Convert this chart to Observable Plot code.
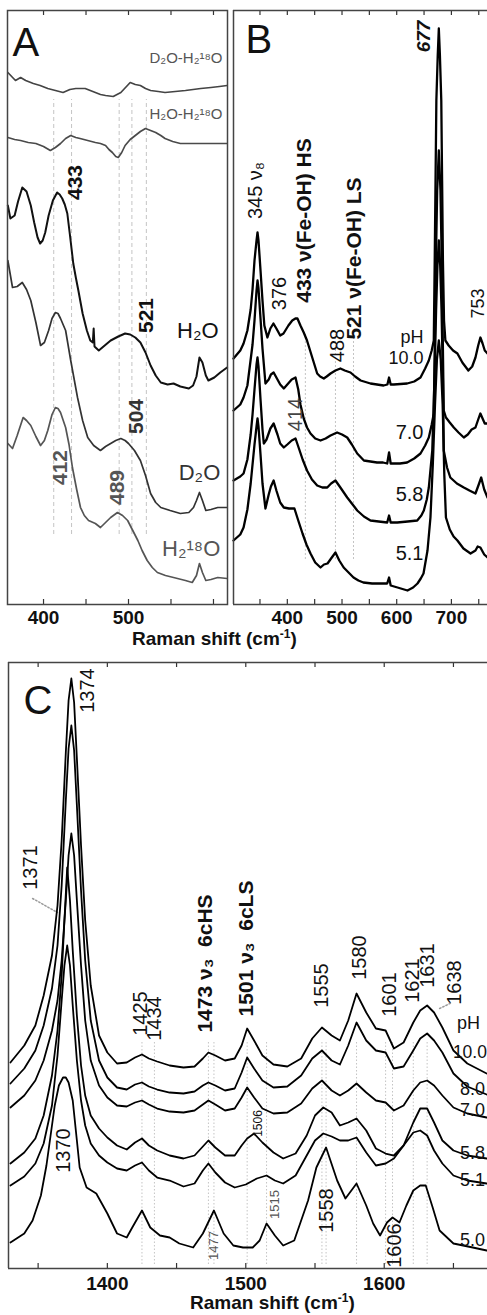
<!DOCTYPE html>
<html>
<head>
<meta charset="utf-8">
<script src="https://cdn.jsdelivr.net/npm/d3@7"></script>
<script src="https://cdn.jsdelivr.net/npm/@observablehq/plot@0.6"></script>
<style>
  body { margin: 0; background: #fff; }
  #fig { position: relative; width: 487px; height: 1315px; overflow: hidden; background: #fff;
         font-family: "Liberation Sans", Arial, Helvetica, sans-serif; }
  #fig > svg, #fig > div { position: absolute; }
  .xtitle { font-weight: bold; font-size: 19px; color: #111; white-space: nowrap; line-height: 22px; }
  .xtitle sup { font-size: 12px; }
</style>
</head>
<body>
<div id="fig"></div>
<script>
// ---------- Panel A: resonance Raman, low-frequency region (cm-1, offset intensity) ----------
const aDiffD2O = [[358,532],[367,524],[373,527],[379,524],[388,521],[396,519],[405,516],[414,514],[423,512],[431,515],[438,516],[449,516],[455,514],[461,512],[467,510],[473,509],[482,508],[491,512],[502,522],[508,520],[514,519],[520,516],[526,514],[535,513],[543,512],[555,513],[567,514],[576,515],[585,516],[597,517],[607,518],[616,519]];
const aDiffH2O = [[358,467],[366,465],[373,464],[382,462],[391,461],[400,458],[408,454],[414,457],[420,461],[426,466],[432,469],[438,467],[443,466],[452,464],[461,462],[467,461],[473,459],[477,455],[481,452],[485,448],[488,447],[492,452],[496,459],[502,465],[508,469],[514,473],[520,476],[526,474],[532,472],[538,469],[543,466],[552,463],[561,461],[573,461],[585,461],[600,461],[616,461]];
const aH2O = [[358,399],[361,386],[366,389],[370,403],[375,417],[380,413],[385,399],[389,382],[393,367],[396,361],[399,364],[402,372],[406,389],[411,404],[416,412],[419,410],[422,406],[425,400],[428,391],[431,370],[435,341],[438,327],[441,314],[446,291],[451,274],[455,264],[458,262],[459,276],[460,258],[465,254],[472,259],[479,264],[488,268],[496,271],[502,270],[508,267],[514,262],[520,252],[526,239],[532,229],[538,222],[546,220],[553,221],[561,218],[571,216],[576,219],[580,228],[583.5,247],[587,242],[591,229],[594,224],[601,227],[608,232],[616,237]];
const aD2O = [[358,344],[363.5,317],[369,318],[375,322],[380,315],[385,304],[391,282],[396.5,259],[401,262],[406,274],[410,286],[414,292],[417,291],[420,286],[426,274],[432,244],[440,207],[446,184],[452,167],[459,159],[467,154],[473,158],[479,161],[485,164],[491,166],[496,164],[500,161],[507,154],[514,144],[520,129],[526,111],[532,102],[538,97],[549,94],[561,91],[571,92],[576.5,97],[580,104],[583.5,112],[587,104],[591,94],[597,95],[605,97],[616,97]];
const aH218O = [[358,161],[363.5,156],[369,169],[376,187],[380,184],[385,179],[391,168],[396.5,159],[401,164],[405,174],[410,190],[414,197],[417,196],[420,192],[426,177],[430,160],[434,137],[439,115],[443.5,97],[448,89],[453,84],[461,81],[467,77],[473,82],[479,87],[487,92],[493,89],[499,84],[505,74],[511,64],[516,54],[522,44],[528,37],[534,32],[543.5,29],[553,27],[567,24],[575,22],[580,29],[583.5,41],[587,32],[591,24],[597,25],[605,27],[616,26]];
const aMarkers = [412, 433, 489, 504, 521];
const ticksA = [400, 450, 500, 550, 600];
const labelsA = [400, 500];

// ---------- Panel B: pH series, 300-770 cm-1 ----------
const bPH100 = [[301.6,246],[314,254],[320,261],[327,274],[333,295],[336.4,315],[340,344],[343.7,364],[345.5,372],[347.3,364],[351,334],[354.6,304],[358,279],[363.6,267],[369,276],[374.6,281],[380,276],[387,269],[393,271],[402,279],[409,284],[414.8,286],[418.5,286],[424,279],[430,272],[436,264],[445,248],[454.6,231],[460,228],[466.7,226],[472,228],[479,231],[488,234],[497,236],[505,234],[515.5,232],[524,228],[534,224],[552,221],[576,219],[583,220],[586,227],[589,220],[594.7,220],[619,221],[632,223],[643.5,227],[652,236],[658.7,244],[664,254],[667.8,264],[669.5,344],[671,424],[672.5,504],[675,549],[677,576],[679,549],[681.5,504],[683,424],[684.5,344],[686.5,284],[689,264],[695,259],[703,254],[711,251],[720,242],[731,234],[738,238],[744,247],[749,259],[753,267],[757,261],[761,254],[766,251]];
const bPH70 = [[301.6,194],[314,200],[320,207],[327,219],[333,245],[336.4,260],[340,284],[343.7,314],[345.5,324],[347.3,316],[351,286],[354.6,256],[360,221],[366,225],[370,230],[375,232],[380,227],[387,220],[393.6,216],[400,220],[408,225],[415,227],[420,215],[424,200],[430,186],[436,177],[442.4,171],[451,166],[460.7,164],[470,166],[479,169],[491,172],[500,170],[509.5,167],[518,160],[527.8,151],[540,144],[552,143],[564,142],[575,142],[582.6,141],[586,152],[589,141],[594.7,141],[606,141],[619,142],[632,146],[643.5,151],[652,159],[658.7,167],[664,180],[667.8,191],[670,274],[672,354],[674,414],[677,454],[680,414],[682,354],[684,274],[686,194],[690,187],[697,182],[704.4,177],[713,172],[722.7,167],[730,170],[737,175],[744,177],[749,185],[753,191],[757,186],[761,181],[766,181]];
const bPH58 = [[301.6,124],[314,128],[320,131],[327,145],[333,170],[336.4,190],[340,215],[343.7,240],[345.5,247],[347.3,238],[351,205],[354.6,175],[357,161],[362,165],[369,176],[375,181],[382,170],[387,161],[393.6,157],[400,160],[408,164],[415,166],[420,158],[428,145],[436,134],[445,125],[454.6,119],[464,117],[473,117],[480,121],[488,124],[497,117],[509.5,107],[518,101],[527.8,94],[540,88],[552,84],[567,83],[582.6,82],[586,89],[589,82],[601,82],[620,83],[637.5,84],[645,89],[649.6,94],[655,105],[658.7,117],[665,154],[669,224],[672,294],[674.5,339],[677,364],[679.5,339],[682,294],[684.5,224],[686,154],[692,137],[698,127],[710,121],[722.7,117],[733,114],[744,111],[750,120],[754.5,127],[760,115],[766,107]];
const bPH51 = [[301.6,64],[314,70],[320,77],[327,95],[333,121],[336.4,140],[340,160],[343.7,178],[345.5,186],[347.3,178],[351,150],[354.6,121],[360,96],[366,110],[370,118],[375,124],[380,114],[387,102],[393.6,97],[403,96],[413,96],[420,84],[427.8,71],[435,60],[442.4,51],[451,42],[460.7,37],[467,40],[473.5,41],[480,46],[488,52],[495,44],[503,37],[512,32],[521,27],[530,24],[539,22],[555,21],[576,21],[582.6,21],[586,27],[589,19],[601.5,17],[619.7,14],[630,17],[638,21],[644,26],[649,31],[656.3,54],[661.7,87],[666,140],[670,200],[673.5,245],[677,264],[680.5,245],[684,200],[687,130],[690,87],[697,75],[704,68],[711,64],[722,56],[735,51],[744,54],[748,58],[753,57],[760,50],[766,47]];
const bMarkers = [433, 488, 521];
const ticksB = [350, 400, 450, 500, 550, 600, 650, 700, 750];
const labelsB = [400, 500, 600, 700];

// ---------- Panel C: high-frequency (marker band) region ----------
const cPH100 = [[1330,206],[1340,223],[1348,243],[1354,273],[1360,313],[1364,363],[1367,428],[1370,516],[1372,568],[1374,590],[1376,566],[1378,510],[1381,423],[1384,348],[1388,283],[1394,233],[1400,216],[1407,205],[1414,206],[1420,211],[1425,214],[1430,210],[1436,207],[1445,203],[1455,201],[1463,202],[1469,210],[1473,216],[1478,213],[1485,208],[1492,210],[1497,223],[1501,240],[1506,228],[1512,213],[1520,204],[1530,202],[1540,210],[1548,230],[1555,241],[1562,233],[1568,228],[1574,248],[1580,275],[1587,256],[1594,240],[1601,238],[1607,220],[1614,226],[1621,246],[1626,258],[1631,263],[1636,256],[1642,241],[1650,218],[1660,205],[1674,195]];
const cPH80 = [[1330,185],[1340,200],[1348,218],[1354,243],[1360,280],[1364,323],[1367,383],[1370,468],[1372,520],[1374,543],[1376,518],[1378,463],[1381,378],[1384,308],[1388,248],[1394,208],[1400,191],[1407,181],[1414,179],[1420,184],[1425,186],[1430,182],[1436,179],[1445,176],[1455,175],[1463,177],[1469,183],[1473,186],[1478,183],[1485,178],[1492,180],[1497,196],[1501,211],[1506,200],[1512,188],[1520,181],[1530,182],[1540,193],[1548,210],[1555,218],[1562,208],[1568,204],[1574,223],[1580,246],[1587,228],[1594,218],[1601,216],[1607,200],[1614,202],[1621,218],[1626,230],[1631,235],[1636,228],[1642,216],[1650,195],[1660,182],[1674,174]];
const cPH70 = [[1330,161],[1340,173],[1348,188],[1354,208],[1360,238],[1364,268],[1367,308],[1370,368],[1372,413],[1374,435],[1376,413],[1378,368],[1381,303],[1384,248],[1388,208],[1394,183],[1400,171],[1407,163],[1414,162],[1420,166],[1425,168],[1430,164],[1436,160],[1445,157],[1455,156],[1463,158],[1469,164],[1473,168],[1478,164],[1485,158],[1492,160],[1497,171],[1501,181],[1506,171],[1512,160],[1520,155],[1530,156],[1540,165],[1548,180],[1555,188],[1562,178],[1568,173],[1574,178],[1580,185],[1587,176],[1594,168],[1601,166],[1607,158],[1614,163],[1621,178],[1626,186],[1631,188],[1636,183],[1642,173],[1650,161],[1660,155],[1674,151]];
const cPH58 = [[1330,105],[1340,116],[1348,130],[1354,153],[1360,193],[1364,238],[1367,293],[1369,348],[1371,401],[1373,368],[1375,318],[1378,253],[1381,203],[1384,173],[1388,153],[1394,140],[1400,131],[1407,123],[1414,119],[1420,126],[1425,130],[1430,123],[1436,118],[1445,113],[1455,110],[1463,113],[1469,122],[1473,128],[1478,121],[1485,113],[1492,113],[1497,123],[1501,130],[1506,135],[1512,126],[1520,116],[1527,110],[1536,115],[1544,133],[1550,153],[1556,161],[1562,156],[1568,143],[1574,146],[1580,150],[1587,138],[1594,120],[1601,115],[1607,113],[1614,123],[1621,146],[1626,160],[1631,160],[1636,146],[1642,128],[1650,118],[1660,113],[1674,110]];
const cPH51 = [[1330,83],[1340,92],[1348,105],[1354,125],[1360,163],[1364,213],[1367,268],[1369,303],[1371,323],[1373,303],[1375,263],[1378,208],[1381,168],[1384,143],[1388,125],[1394,113],[1400,106],[1407,100],[1414,98],[1420,103],[1425,106],[1430,98],[1436,91],[1445,88],[1455,82],[1463,85],[1469,98],[1473,105],[1478,96],[1485,86],[1492,81],[1500,84],[1508,90],[1515,93],[1521,88],[1527,85],[1536,93],[1544,113],[1550,128],[1556,135],[1562,132],[1568,128],[1574,128],[1580,131],[1587,116],[1594,103],[1601,105],[1607,110],[1614,123],[1621,136],[1626,138],[1631,133],[1636,118],[1642,105],[1650,93],[1660,88],[1674,85]];
const cPH50 = [[1330,26],[1340,35],[1346,48],[1352,73],[1356,103],[1359,133],[1362,163],[1365,183],[1368,191],[1370,191],[1372,186],[1375,168],[1378,128],[1380,101],[1385,81],[1392,75],[1400,55],[1407,35],[1414,31],[1418,41],[1425,58],[1431,41],[1438,33],[1445,31],[1452,25],[1462,21],[1469,35],[1477,58],[1484,35],[1491,23],[1498,21],[1505,21],[1510,28],[1515,45],[1521,33],[1527,23],[1535,28],[1545,68],[1551,101],[1558,121],[1566,88],[1572,70],[1580,85],[1587,63],[1592,45],[1597,33],[1602,46],[1606,51],[1611,46],[1616,63],[1621,78],[1626,83],[1630,83],[1635,61],[1640,38],[1650,25],[1664,21],[1674,18]];
const cMarkers = [1425, 1434, 1473, 1477, 1501, 1515, 1555, 1558, 1580, 1601, 1606, 1621, 1631];
const ticksC = [1350, 1400, 1450, 1500, 1550, 1600, 1650];
const labelsC = [1400, 1500, 1600];

// ---------- helpers ----------
const FONT = '"Liberation Sans", Arial, Helvetica, sans-serif';
const fig = document.getElementById("fig");
const plain = d3.format("d");

function spectrum(data, stroke, width) {
  return Plot.line(data, {x: d => d[0], y: d => d[1], stroke, strokeWidth: width, strokeLinejoin: "round"});
}
function txt(x, y, text, o = {}) {
  return Plot.text([{x, y, text}], {x: "x", y: "y", text: "text", fontSize: 20, fontWeight: "normal", fill: "#111", ...o});
}
function inwardTicks(ticks, top, len) {
  return [
    Plot.ruleX(ticks, {y1: 0, y2: len, stroke: "#333", strokeWidth: 1.2}),
    Plot.ruleX(ticks, {y1: top - len, y2: top, stroke: "#333", strokeWidth: 1.2})
  ];
}
function place(node, left, top) {
  node.style.position = "absolute";
  node.style.left = left + "px";
  node.style.top = top + "px";
  node.style.maxWidth = "none";
  fig.appendChild(node);
}
const baseStyle = {fontFamily: FONT, fontSize: "19px", fontWeight: "bold", color: "#111", background: "transparent", overflow: "visible"};

// ---------- Panel A ----------
const plotA = Plot.plot({
  width: 228, height: 628,
  marginLeft: 7, marginRight: 1, marginTop: 10, marginBottom: 24,
  x: {domain: [357.6, 616.5], ticks: labelsA, tickFormat: plain, tickSize: 0, tickPadding: 6, label: null},
  y: {domain: [0, 594], axis: null},
  style: baseStyle,
  marks: [
    Plot.ruleX(aMarkers, {y1: 70, y2: 505, stroke: "#c4c4c4", strokeWidth: 1, strokeDasharray: "4,3"}),
    ...inwardTicks(ticksA, 594, 5),
    spectrum(aDiffD2O, "#444", 1.7),
    spectrum(aDiffH2O, "#4a4a4a", 1.7),
    spectrum(aH218O, "#555", 1.7),
    spectrum(aD2O, "#333", 1.7),
    spectrum(aH2O, "#111", 2),
    Plot.frame({stroke: "#444", strokeWidth: 1.5}),
    txt(363.5, 561, "A", {fontSize: 40, textAnchor: "start"}),
    txt(610.6, 546, "D₂O-H₂¹⁸O", {fontSize: 15, fill: "#555", textAnchor: "end"}),
    txt(610.6, 490, "H₂O-H₂¹⁸O", {fontSize: 15, fill: "#555", textAnchor: "end"}),
    txt(437, 422, "433", {fontWeight: "bold", fontSize: 21, rotate: -90}),
    txt(521, 289, "521", {fontWeight: "bold", fontSize: 21, rotate: -90}),
    txt(606, 274, "H₂O", {fontSize: 22, textAnchor: "end"}),
    txt(509, 188, "504", {fontWeight: "bold", fontSize: 21, rotate: -90, fill: "#333"}),
    txt(608, 132, "D₂O", {fontSize: 22, textAnchor: "end", fill: "#333"}),
    txt(420, 137, "412", {fontWeight: "bold", fontSize: 21, rotate: -90, fill: "#555"}),
    txt(487, 117, "489", {fontWeight: "bold", fontSize: 21, rotate: -90, fill: "#555"}),
    txt(608, 56, "H₂¹⁸O", {fontSize: 22, textAnchor: "end", fill: "#555"})
  ]
});
place(plotA, 0, 0);

// ---------- Panel B ----------
const plotB = Plot.plot({
  width: 261, height: 628,
  marginLeft: 7, marginRight: 0, marginTop: 10, marginBottom: 24,
  x: {domain: [301.6, 766], ticks: labelsB, tickFormat: plain, tickSize: 0, tickPadding: 6, label: null},
  y: {domain: [0, 594], axis: null},
  style: baseStyle,
  marks: [
    Plot.ruleX(bMarkers, {y1: 45, y2: 270, stroke: "#c4c4c4", strokeWidth: 1, strokeDasharray: "2,2"}),
    ...inwardTicks(ticksB, 594, 5),
    spectrum(bPH51, "#000", 2.3),
    spectrum(bPH58, "#000", 2.3),
    spectrum(bPH70, "#000", 2.3),
    spectrum(bPH100, "#000", 2.3),
    Plot.ruleX([301.6], {stroke: "#444", strokeWidth: 1.5}),
    Plot.ruleY([0, 594], {stroke: "#444", strokeWidth: 1.5}),
    txt(323.6, 564, "B", {fontSize: 40, textAnchor: "start"}),
    txt(650, 568, "677", {fontWeight: "bold", fontStyle: "italic", fontSize: 19, rotate: -90}),
    txt(342, 414, "345 ν₈", {rotate: -90}),
    txt(385.7, 311, "376", {rotate: -90}),
    txt(431.4, 384, "433 ν(Fe-OH) HS", {fontWeight: "bold", fontSize: 21, rotate: -90}),
    txt(492.7, 259, "488", {rotate: -90}),
    txt(522.9, 346, "521 ν(Fe-OH) LS", {fontWeight: "bold", fontSize: 21, rotate: -90}),
    txt(415, 190, "414", {rotate: -90, fill: "#444"}),
    txt(749, 301, "753", {rotate: -90, fontSize: 18}),
    txt(649, 267, "pH", {textAnchor: "end", fontSize: 18}),
    txt(649, 246, "10.0", {textAnchor: "end", fontSize: 18}),
    txt(649, 172, "7.0", {textAnchor: "end"}),
    txt(649, 110, "5.8", {textAnchor: "end"}),
    txt(649, 51, "5.1", {textAnchor: "end"})
  ]
});
place(plotB, 226, 0);

// ---------- Panel C ----------
const plotC = Plot.plot({
  width: 487, height: 644,
  marginLeft: 8, marginRight: 0, marginTop: 12, marginBottom: 26,
  x: {domain: [1328.6, 1674.6], ticks: labelsC, tickFormat: plain, tickSize: 0, tickPadding: 8, label: null},
  y: {domain: [0, 606], axis: null},
  style: baseStyle,
  marks: [
    Plot.ruleX(cMarkers, {y1: 4, y2: 228, stroke: "#c4c4c4", strokeWidth: 1, strokeDasharray: "1.5,2"}),
    Plot.line([[1346, 370], [1364, 356]], {x: d => d[0], y: d => d[1], stroke: "#999", strokeDasharray: "1.5,2"}),
    Plot.line([[1640, 260], [1649, 266]], {x: d => d[0], y: d => d[1], stroke: "#999", strokeDasharray: "1.5,2"}),
    ...inwardTicks(ticksC, 606, 5),
    spectrum(cPH50, "#000", 1.8),
    spectrum(cPH51, "#000", 1.8),
    spectrum(cPH58, "#000", 1.8),
    spectrum(cPH70, "#000", 1.8),
    spectrum(cPH80, "#000", 1.8),
    spectrum(cPH100, "#000", 1.8),
    Plot.ruleX([1328.6], {stroke: "#444", strokeWidth: 1.5}),
    Plot.ruleY([0, 606], {stroke: "#444", strokeWidth: 1.5}),
    txt(1339.4, 567, "C", {fontSize: 40, textAnchor: "start"}),
    txt(1386, 578, "1374", {rotate: -90}),
    txt(1344.4, 401, "1371", {rotate: -90}),
    txt(1368.6, 118, "1370", {rotate: -90}),
    txt(1423.8, 255, "1425", {rotate: -90}),
    txt(1434, 250, "1434", {rotate: -90}),
    txt(1470.7, 305, "1473 ν₃  6cHS", {fontWeight: "bold", fontSize: 21, rotate: -90}),
    txt(1500.6, 320, "1501 ν₃  6cLS", {fontWeight: "bold", fontSize: 21, rotate: -90}),
    txt(1554.8, 283, "1555", {rotate: -90}),
    txt(1582.5, 311, "1580", {rotate: -90}),
    txt(1604, 274, "1601", {rotate: -90}),
    txt(1620.4, 288, "1621", {rotate: -90}),
    txt(1631.2, 303, "1631", {rotate: -90}),
    txt(1651, 286, "1638", {rotate: -90}),
    txt(1509, 145, "1506", {rotate: -90, fontSize: 12}),
    txt(1521, 64, "1515", {rotate: -90, fontSize: 13, fill: "#555"}),
    txt(1476.8, 23, "1477", {rotate: -90, fontSize: 13, fill: "#555"}),
    txt(1558.4, 58, "1558", {rotate: -90}),
    txt(1607.8, 23, "1606", {rotate: -90}),
    txt(1652.5, 245, "pH", {textAnchor: "start", fontSize: 18}),
    txt(1649.6, 216, "10.0", {textAnchor: "start", fontSize: 17.5}),
    txt(1654.7, 179, "8.0", {textAnchor: "start", fontSize: 18}),
    txt(1654.7, 158, "7.0", {textAnchor: "start", fontSize: 18}),
    txt(1654.7, 115, "5.8", {textAnchor: "start", fontSize: 18}),
    txt(1654.7, 88, "5.1", {textAnchor: "start", fontSize: 18}),
    txt(1654.7, 28, "5.0", {textAnchor: "start", fontSize: 18})
  ]
});
place(plotC, 0, 650);

// ---------- axis titles ----------
function xTitle(left, top) {
  const d = document.createElement("div");
  d.className = "xtitle";
  d.innerHTML = "Raman shift (cm<sup>-1</sup>)";
  d.style.left = left + "px";
  d.style.top = top + "px";
  fig.appendChild(d);
}
xTitle(132, 623);
xTitle(190, 1287);
</script>
</body>
</html>
